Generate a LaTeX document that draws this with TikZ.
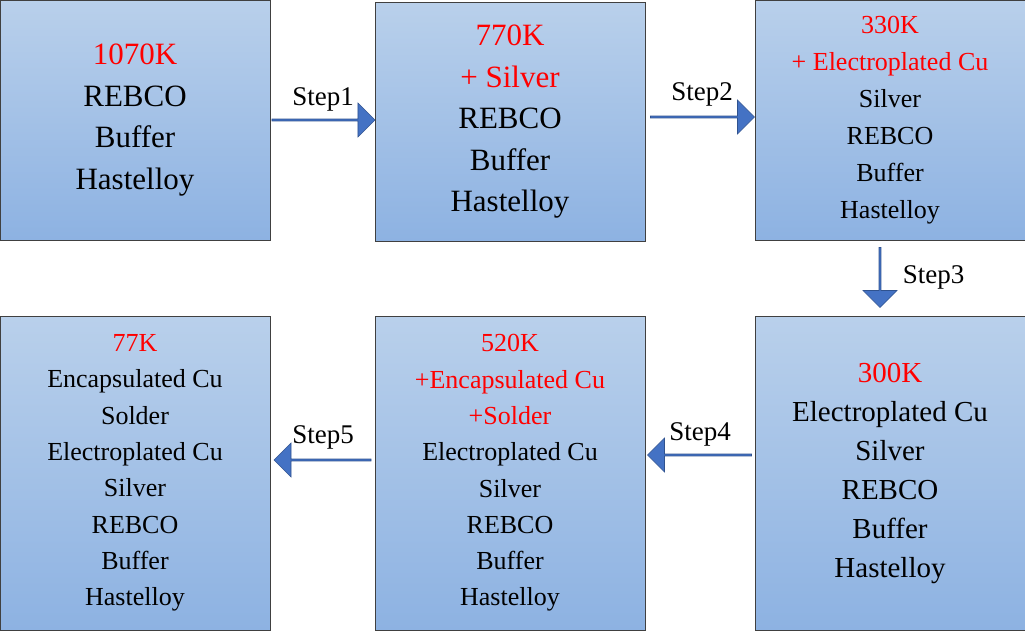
\documentclass[tikz,border=0pt]{standalone}
\usepackage{fontspec}
\setmainfont{Liberation Serif}
\usetikzlibrary{shapes.arrows, positioning}
\definecolor{boxtop}{HTML}{B9D0EB}
\definecolor{boxbot}{HTML}{8DB2E2}
\definecolor{boxline}{HTML}{404040}
\definecolor{arrfill}{HTML}{4472C4}
\definecolor{arrline}{HTML}{2F528F}
\tikzset{
  layer/.style={rectangle, minimum width=270pt, align=center, draw=boxline, line width=0.8pt, top color=boxtop, bottom color=boxbot, inner sep=0pt},
  steparrow/.style={single arrow, draw=arrline, fill=arrfill, line width=0.6pt, minimum width=34pt, single arrow head extend=5pt, single arrow head indent=0pt, inner sep=0pt},
  steplabel/.style={font=\fontsize{27pt}{30pt}\selectfont}
}
\newcommand{\hot}[1]{\textcolor{red}{#1}}
\begin{document}
\begin{tikzpicture}[x=1pt, y=-1pt]
	\useasboundingbox (0,0) rectangle (1025,630);
	% boxes
	\node (room1070) [layer, minimum height=240pt, font=\fontsize{31pt}{41.5pt}\selectfont] at (135,120) {\hot{1070K}\\REBCO\\Buffer\\Hastelloy};
	\node (room770) [layer, minimum height=239pt, font=\fontsize{31pt}{41.5pt}\selectfont] at (510,122) {\hot{770K}\\\hot{+ Silver}\\REBCO\\Buffer\\Hastelloy};
	\node (room330) [layer, minimum height=240pt, font=\fontsize{26pt}{37pt}\selectfont] at (890,120) {\hot{330K}\\\hot{+ Electroplated Cu}\\Silver\\REBCO\\Buffer\\Hastelloy};
	\node (room300) [layer, minimum height=314pt, font=\fontsize{29pt}{39pt}\selectfont] at (890,473) {\hot{300K}\\Electroplated Cu\\Silver\\REBCO\\Buffer\\Hastelloy};
	\node (room520) [layer, minimum height=314pt, font=\fontsize{26pt}{36.3pt}\selectfont] at (510,473) {\hot{520K}\\\hot{+Encapsulated Cu}\\\hot{+Solder}\\Electroplated Cu\\Silver\\REBCO\\Buffer\\Hastelloy};
	\node (room77) [layer, minimum height=314pt, font=\fontsize{26pt}{36.3pt}\selectfont] at (135,473) {\hot{77K}\\Encapsulated Cu\\Solder\\Electroplated Cu\\Silver\\REBCO\\Buffer\\Hastelloy};
	% arrows
	\node (step1) [steparrow, minimum height=103pt] at (323,120) {};
	\node (step2) [steparrow, minimum height=104pt] at (702,117) {};
	\node (step3) [steparrow, minimum height=60pt, shape border rotate=270] at (880,277) {};
	\node (step4) [steparrow, minimum height=104pt, shape border rotate=180] at (700,455) {};
	\node (step5) [steparrow, minimum height=97pt, shape border rotate=180] at (323,460) {};
	% labels
	\node [steplabel, above=4pt of step1] {Step1};
	\node [steplabel, above=6pt of step2] {Step2};
	\node [steplabel, right=18pt of step3] {Step3};
	\node [steplabel, above=4pt of step4] {Step4};
	\node [steplabel, above=6pt of step5] {Step5};
\end{tikzpicture}
\end{document}
